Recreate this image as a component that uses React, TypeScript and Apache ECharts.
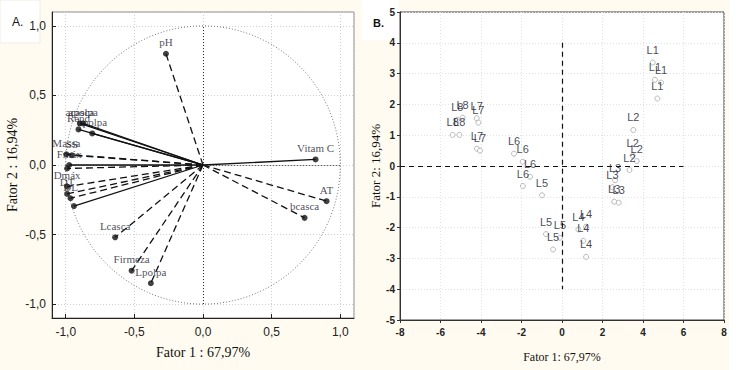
import React, { useEffect, useRef } from "react";
import * as echarts from "echarts";

// Panel A: loadings (Fator 1, Fator 2)
const loadingNames = ["pH", "Vitam C", "AT", "bcasca", "Lcasca", "Firmeza", "Lpolpa", "Massa", "SS", "Fmáx", "", "Dmáx", "DT", "DL", "", "acasca", "apolpa", "Rend", "bpolpa"];
const loadingX = [-0.27, 0.82, 0.9, 0.74, -0.64, -0.52, -0.38, -0.995, -0.955, -0.975, -0.99, -0.99, -0.99, -0.965, -0.94, -0.897, -0.873, -0.907, -0.807];
const loadingY = [0.8, 0.04, -0.26, -0.38, -0.52, -0.76, -0.85, 0.077, 0.07, 0.0, -0.025, -0.155, -0.208, -0.239, -0.295, 0.299, 0.299, 0.256, 0.227];
const loadingDashed = [1, 0, 1, 1, 1, 1, 1, 1, 1, 0, 1, 1, 1, 1, 0, 0, 0, 0, 0];

// Panel B: scores
const scoreNames = [
  "L1", "L1", "L1", "L1",
  "L2", "L2", "L2", "L2",
  "L3", "L3", "L3", "L3",
  "L4", "L4", "L4", "L4",
  "L5", "L5", "L5", "L5",
  "L6", "L6", "L6", "L6",
  "L7", "L7", "L7", "L7",
  "L8", "L8", "L8", "L8",
];
const scoreX = [
  4.48, 4.59, 4.89, 4.71,
  3.52, 3.49, 3.69, 3.33,
  2.62, 2.49, 2.58, 2.8,
  0.81, 1.19, 1.05, 1.19,
  -0.99, -0.79, -0.1, -0.44,
  -2.37, -1.94, -1.58, -1.93,
  -4.21, -4.13, -4.2, -4.05,
  -5.17, -4.91, -5.4, -5.07,
];
const scoreY = [
  3.36, 2.8, 2.71, 2.19,
  1.17, 0.34, 0.16, -0.13,
  -0.46, -0.69, -1.16, -1.19,
  -2.06, -1.97, -2.43, -2.95,
  -0.95, -2.21, -2.33, -2.71,
  0.4, 0.14, -0.35, -0.65,
  1.55, 1.41, 0.56, 0.5,
  1.5, 1.57, 1.01, 1.01,
];

const axisNameA = "Fator 1 : 67,97%";
const axisNameA2 = "Fator 2 : 16,94%";
const axisNameB = "Fator 1: 67,97%";
const axisNameB2 = "Fator 2: 16,94%";

const SERIF = "'Liberation Serif', 'Times New Roman', serif";
const SANS = "'Liberation Sans', Arial, sans-serif";
const NARROW = "'Liberation Sans Narrow', 'Liberation Sans', Arial, sans-serif";

const fmtA = (v: number) => (Math.abs(v) < 1e-9 ? "0,0" : v.toFixed(1).replace(".", ","));

export default function App() {
  const ref = useRef<HTMLDivElement>(null);
  useEffect(() => {
    if (!ref.current) return;
    const chart = echarts.init(ref.current, undefined, { renderer: "svg" });

    const loadData = loadingX.map((x, i) => [x, loadingY[i], loadingDashed[i], loadingNames[i]]);
    const scoreData = scoreX.map((x, i) => [x, scoreY[i], scoreNames[i]]);

    const option: any = {
      animation: false,
      backgroundColor: "#fffbf0",
      graphic: [
        { type: "rect", shape: { x: 0, y: 0, width: 40, height: 43 }, style: { fill: "#ffffff", stroke: "#f0ece0", lineWidth: 1 }, z: -1 },
        { type: "rect", shape: { x: 362, y: 0, width: 36, height: 40 }, style: { fill: "#ffffff" }, z: -1 },
        { type: "rect", shape: { x: 729, y: 0, width: 7, height: 370 }, style: { fill: "#ffffff" }, z: -1 },
        { type: "text", x: 12, y: 16, style: { text: "A.", font: `12px ${SANS}`, fill: "#111" } },
        { type: "text", x: 373, y: 17, style: { text: "B.", font: `bold 11px ${SANS}`, fill: "#111" } },
      ],
      grid: [
        { left: 52, top: 12, width: 302, height: 306, show: true, backgroundColor: "#ffffff", borderColor: "#888", borderWidth: 1 },
        { left: 400, top: 12, width: 324, height: 308, show: true, backgroundColor: "#ffffff", borderColor: "#444", borderWidth: 1 },
      ],
      xAxis: [
        {
          gridIndex: 0, type: "value", min: -1.1, max: 1.1, splitNumber: 4,
          name: axisNameA, nameLocation: "middle", nameGap: 27,
          nameTextStyle: { fontFamily: SERIF, fontSize: 14, color: "#111" },
          axisLine: { show: true, onZero: false, lineStyle: { color: "#222" } },
          axisTick: { show: true, inside: true, length: 4, lineStyle: { color: "#222" } },
          axisLabel: { formatter: fmtA, showMinLabel: false, showMaxLabel: false, fontFamily: SANS, fontSize: 12, color: "#222", margin: 8 },
          splitLine: { show: true, lineStyle: { color: "#cfcfcf", type: [1, 2] } },
        },
        {
          gridIndex: 1, type: "value", min: -8, max: 8, interval: 2,
          name: axisNameB, nameLocation: "middle", nameGap: 31,
          nameTextStyle: { fontFamily: SERIF, fontSize: 12, color: "#111" },
          axisLine: { show: true, onZero: false, lineStyle: { color: "#333" } },
          axisTick: { show: true, length: 3, lineStyle: { color: "#333" } },
          axisLabel: { fontFamily: NARROW, fontWeight: "bold", fontSize: 10, color: "#222", margin: 7 },
          splitLine: { show: true, lineStyle: { color: "#e2e2e2", type: [1, 2] } },
        },
      ],
      yAxis: [
        {
          gridIndex: 0, type: "value", min: -1.1, max: 1.1, splitNumber: 4,
          name: axisNameA2, nameLocation: "middle", nameGap: 33,
          nameTextStyle: { fontFamily: SERIF, fontSize: 14, color: "#111" },
          axisLine: { show: true, onZero: false, lineStyle: { color: "#222" } },
          axisTick: { show: true, inside: true, length: 4, lineStyle: { color: "#222" } },
          axisLabel: { formatter: fmtA, showMinLabel: false, showMaxLabel: false, fontFamily: SANS, fontSize: 12, color: "#222", margin: 6 },
          splitLine: { show: true, lineStyle: { color: "#cfcfcf", type: [1, 2] } },
        },
        {
          gridIndex: 1, type: "value", min: -5, max: 5, interval: 1,
          name: axisNameB2, nameLocation: "middle", nameGap: 14,
          nameTextStyle: { fontFamily: SERIF, fontSize: 13, color: "#111" },
          axisLine: { show: true, onZero: false, lineStyle: { color: "#333" } },
          axisTick: { show: true, length: 3, lineStyle: { color: "#333" } },
          axisLabel: { fontFamily: NARROW, fontWeight: "bold", fontSize: 10, color: "#222", margin: 5 },
          splitLine: { show: true, lineStyle: { color: "#e2e2e2", type: [1, 2] } },
        },
      ],
      series: [
        // unit circle
        {
          type: "custom", xAxisIndex: 0, yAxisIndex: 0, silent: true, z: 1,
          data: [[0, 0]],
          renderItem: (params: any, api: any) => {
            const c = api.coord([0, 0]);
            const px = api.coord([1, 0]);
            const py = api.coord([0, 1]);
            return {
              type: "ellipse",
              shape: { cx: c[0], cy: c[1], rx: Math.abs(px[0] - c[0]), ry: Math.abs(c[1] - py[1]) },
              style: { fill: "none", stroke: "#777", lineWidth: 1, lineDash: [1, 2] },
            };
          },
        },
        // vectors
        {
          type: "custom", xAxisIndex: 0, yAxisIndex: 0, silent: true, z: 3,
          data: loadData,
          encode: { x: 0, y: 1 },
          renderItem: (params: any, api: any) => {
            const p0 = api.coord([0, 0]);
            const p1 = api.coord([api.value(0), api.value(1)]);
            const dashed = api.value(2) === 1;
            return {
              type: "line",
              shape: { x1: p0[0], y1: p0[1], x2: p1[0], y2: p1[1] },
              style: { stroke: "#111", lineWidth: 1.3, lineDash: dashed ? [7, 4] : null, fill: "none" },
            };
          },
        },
        // loading points + labels + zero lines
        {
          type: "scatter", xAxisIndex: 0, yAxisIndex: 0, z: 4,
          data: loadData,
          encode: { x: 0, y: 1 },
          symbol: "circle", symbolSize: 6,
          itemStyle: { color: "#111" },
          label: {
            show: true, position: "top", distance: 3,
            formatter: (p: any) => p.value[3],
            fontFamily: SERIF, fontSize: 11, color: "#1a1a2e",
          },
          markLine: {
            silent: true, symbol: "none", animation: false,
            label: { show: false },
            lineStyle: { color: "#222", type: [1, 2], width: 1 },
            data: [
              [{ coord: [0, -1] }, { coord: [0, 1] }],
              [{ coord: [-1, 0] }, { coord: [1, 0] }],
            ],
          },
        },
        // scores
        {
          type: "scatter", xAxisIndex: 1, yAxisIndex: 1, z: 4,
          data: scoreData,
          encode: { x: 0, y: 1 },
          symbol: "circle", symbolSize: 5,
          itemStyle: { color: "#ffffff", borderColor: "#a8a8a8", borderWidth: 1 },
          label: {
            show: true, position: "top", distance: 4,
            formatter: (p: any) => p.value[2],
            fontFamily: SANS, fontSize: 11, color: "#15152a",
          },
          markLine: {
            silent: true, symbol: "none", animation: false,
            label: { show: false },
            lineStyle: { color: "#111", type: [5, 4], width: 1.2 },
            data: [
              [{ coord: [-8, 0] }, { coord: [6, 0] }],
              [{ coord: [0, 4] }, { coord: [0, -4] }],
            ],
          },
        },
      ],
    };
    chart.setOption(option);
    return () => chart.dispose();
  }, []);

  return (
    <div
      ref={ref}
      style={{ position: "fixed", left: 0, top: 0, width: 736, height: 370 }}
    />
  );
}
